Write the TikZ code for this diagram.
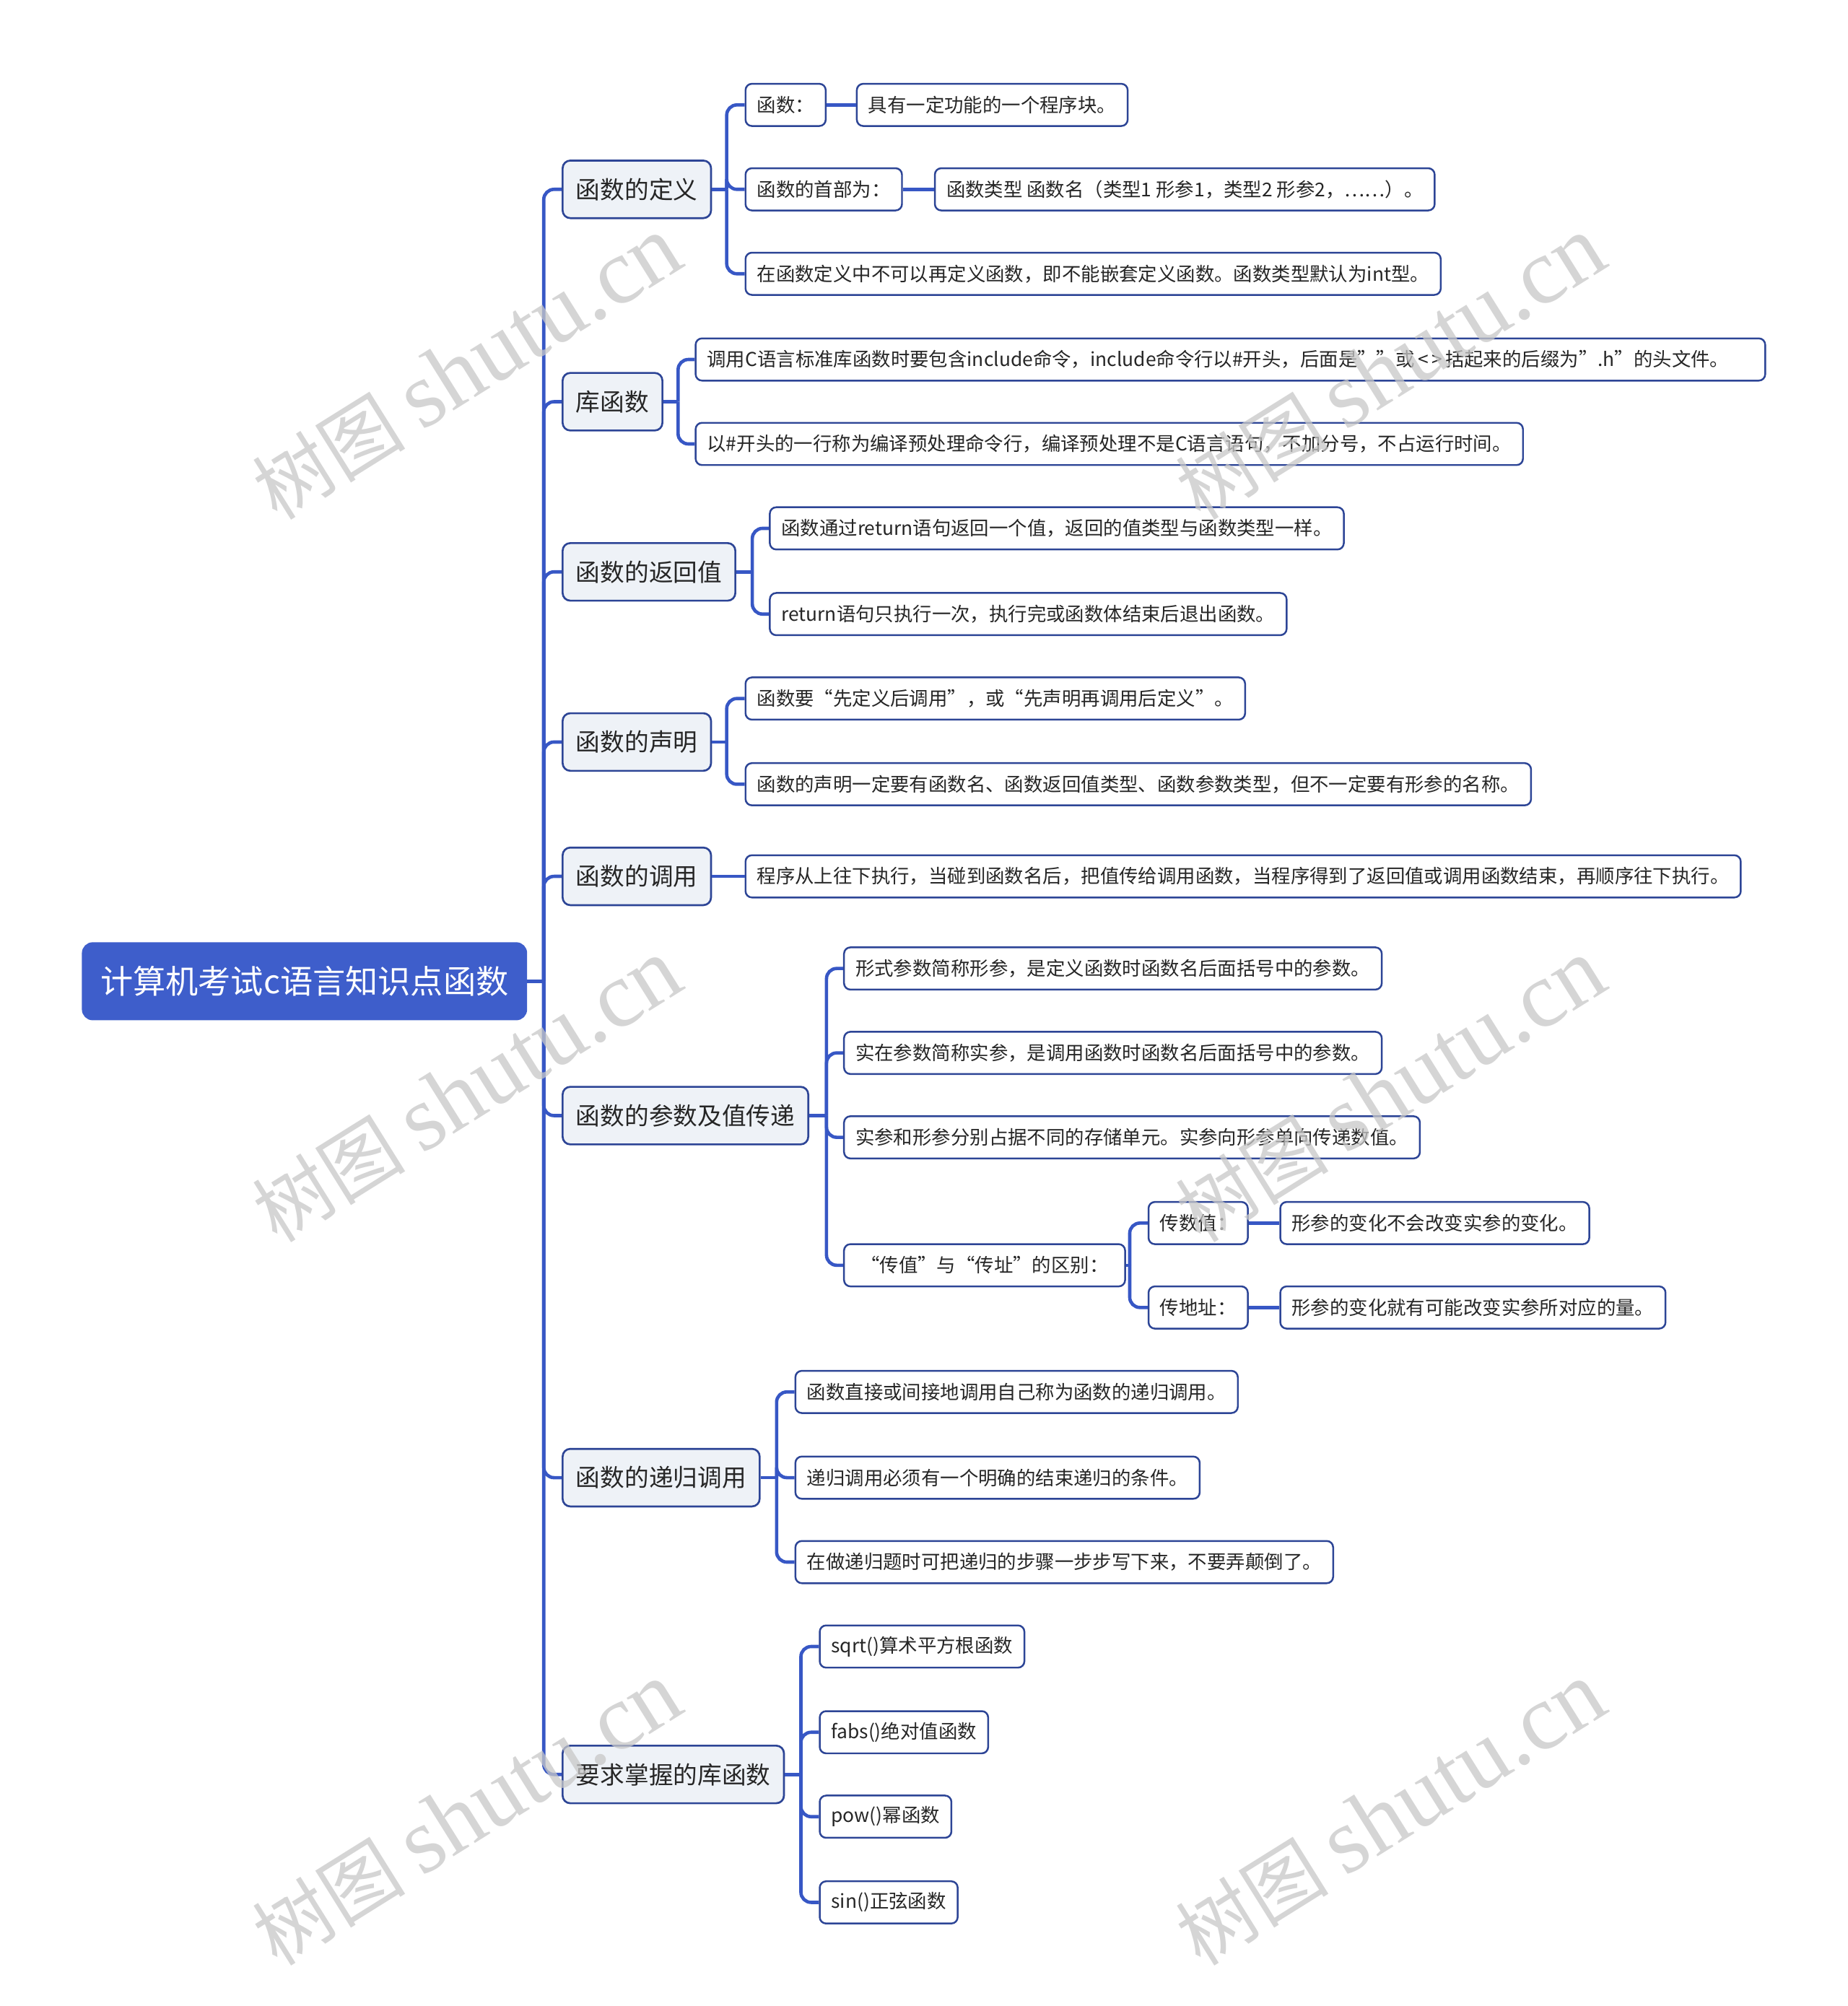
\documentclass[tikz,border=0pt]{standalone}
\usepackage{fontspec}
\setmainfont{Noto Sans CJK SC}
\newfontfamily\wmlatin{Liberation Serif}
\usetikzlibrary{calc}
\definecolor{rootblue}{HTML}{3E5ECB}
\definecolor{connblue}{HTML}{3757C5}
\definecolor{bordnavy}{HTML}{2D4596}
\definecolor{lonefill}{HTML}{EEF2F7}
\definecolor{wmgray}{HTML}{C8C8C8}
\tikzset{
  rootbox/.style={draw=rootblue, fill=rootblue, text=white, rounded corners=8pt, line width=1pt,
    anchor=west, minimum height=60pt, inner xsep=14pt, inner ysep=0pt,
    font=\fontsize{25.5}{30}\selectfont},
  lonebox/.style={draw=bordnavy, fill=lonefill, text=black!85, rounded corners=6pt, line width=1.5pt,
    anchor=west, minimum height=45pt, inner xsep=10.5pt, inner ysep=0pt,
    font=\fontsize{19}{23}\selectfont},
  leafbox/.style={draw=bordnavy, fill=white, text=black!85, rounded corners=5pt, line width=1.4pt,
    anchor=west, minimum height=33pt, inner xsep=9pt, inner ysep=0pt,
    font=\fontsize{14.9}{18}\selectfont},
  conn/.style={draw=connblue, line width=2.6pt, rounded corners=8pt},
  wm/.style={text=wmgray, text opacity=0.75, rotate=32, inner sep=0pt},
}
\begin{document}
\begin{tikzpicture}[x=1pt, y=-1pt]
\useasboundingbox[fill=white] (0,0) rectangle (1444,1568);

% root
\node[rootbox] (root) at (64,767) {计算机考试c语言知识点函数};

% level 1
\node[lonebox] (a) at (439,148) {函数的定义};
\node[lonebox] (b) at (439,314) {库函数};
\node[lonebox] (c) at (439,447) {函数的返回值};
\node[lonebox] (d) at (439,580) {函数的声明};
\node[lonebox] (e) at (439,685) {函数的调用};
\node[lonebox] (f) at (439,872) {函数的参数及值传递};
\node[lonebox] (g) at (439,1155) {函数的递归调用};
\node[lonebox] (h) at (439,1387) {要求掌握的库函数};

% a children
\node[leafbox] (a1) at (582,82) {函数：};
\node[leafbox] (a1x) at (669,82) {具有一定功能的一个程序块。};
\node[leafbox] (a2) at (582,148) {函数的首部为：};
\node[leafbox] (a2x) at (730,148) {函数类型 函数名（类型1 形参1，类型2 形参2，……）。};
\node[leafbox] (a3) at (582,214) {在函数定义中不可以再定义函数，即不能嵌套定义函数。函数类型默认为int型。};

% b children
\node[leafbox, text width=818pt, align=left] (b1) at (543,281) {调用C语言标准库函数时要包含include命令，include命令行以\#开头，后面是""或\,<\,>\,括起来的后缀为”.h”的头文件。};
\node[leafbox] (b2) at (543,347) {以\#开头的一行称为编译预处理命令行，编译预处理不是C语言语句，不加分号，不占运行时间。};

% c children
\node[leafbox] (c1) at (601,413) {函数通过return语句返回一个值，返回的值类型与函数类型一样。};
\node[leafbox] (c2) at (601,480) {return语句只执行一次，执行完或函数体结束后退出函数。};

% d children
\node[leafbox] (d1) at (582,546) {函数要“先定义后调用”，或“先声明再调用后定义”。};
\node[leafbox] (d2) at (582,613) {函数的声明一定要有函数名、函数返回值类型、函数参数类型，但不一定要有形参的名称。};

% e child
\node[leafbox] (e1) at (582,685) {程序从上往下执行，当碰到函数名后，把值传给调用函数，当程序得到了返回值或调用函数结束，再顺序往下执行。};

% f children
\node[leafbox] (f1) at (659,757) {形式参数简称形参，是定义函数时函数名后面括号中的参数。};
\node[leafbox] (f2) at (659,823) {实在参数简称实参，是调用函数时函数名后面括号中的参数。};
\node[leafbox] (f3) at (659,889) {实参和形参分别占据不同的存储单元。实参向形参单向传递数值。};
\node[leafbox, inner xsep=13pt] (f4) at (659,989) {“传值”与“传址”的区别：};
\node[leafbox] (f41) at (897,956) {传数值：};
\node[leafbox] (f41x) at (1000,956) {形参的变化不会改变实参的变化。};
\node[leafbox] (f42) at (897,1022) {传地址：};
\node[leafbox] (f42x) at (1000,1022) {形参的变化就有可能改变实参所对应的量。};

% g children
\node[leafbox] (g1) at (621,1088) {函数直接或间接地调用自己称为函数的递归调用。};
\node[leafbox] (g2) at (621,1155) {递归调用必须有一个明确的结束递归的条件。};
\node[leafbox] (g3) at (621,1221) {在做递归题时可把递归的步骤一步步写下来，不要弄颠倒了。};

% h children
\node[leafbox] (h1) at (640,1287) {sqrt()算术平方根函数};
\node[leafbox] (h2) at (640,1354) {fabs()绝对值函数};
\node[leafbox] (h3) at (640,1420) {pow()幂函数};
\node[leafbox] (h4) at (640,1487) {sin()正弦函数};

% bracket coordinates
\coordinate (sp) at (425,767);
\coordinate (ba) at (568,148);
\coordinate (bb) at (530,314);
\coordinate (bc) at (588,447);
\coordinate (bd) at (568,580);
\coordinate (bf) at (646,872);
\coordinate (bf4) at (883,989);
\coordinate (bg) at (607,1155);
\coordinate (bh) at (626,1387);

% connectors
\draw[conn] (root.east) -- (sp);
\foreach \n in {a,b,c,d,e,f,g,h} { \draw[conn] (sp) |- (\n.west); }

\draw[conn] (a.east) -- (ba);
\foreach \n in {a1,a2,a3} { \draw[conn] (ba) |- (\n.west); }
\draw[conn] (a1.east) -- (a1x.west);
\draw[conn] (a2.east) -- (a2x.west);

\draw[conn] (b.east) -- (bb);
\foreach \n in {b1,b2} { \draw[conn] (bb) |- (\n.west); }

\draw[conn] (c.east) -- (bc);
\foreach \n in {c1,c2} { \draw[conn] (bc) |- (\n.west); }

\draw[conn] (d.east) -- (bd);
\foreach \n in {d1,d2} { \draw[conn] (bd) |- (\n.west); }

\draw[conn] (e.east) -- (e1.west);

\draw[conn] (f.east) -- (bf);
\foreach \n in {f1,f2,f3,f4} { \draw[conn] (bf) |- (\n.west); }
\draw[conn] (f4.east) -- (bf4);
\foreach \n in {f41,f42} { \draw[conn] (bf4) |- (\n.west); }
\draw[conn] (f41.east) -- (f41x.west);
\draw[conn] (f42.east) -- (f42x.west);

\draw[conn] (g.east) -- (bg);
\foreach \n in {g1,g2,g3} { \draw[conn] (bg) |- (\n.west); }

\draw[conn] (h.east) -- (bh);
\foreach \n in {h1,h2,h3,h4} { \draw[conn] (bh) |- (\n.west); }

% watermarks
\foreach \wx/\wy [count=\i] in {365/288, 1087/288, 365/853, 1087/853, 365/1418, 1087/1418} {
  \node[wm] (wm\i) at (\wx,\wy) {\fontsize{60}{66}\selectfont 树图\hspace{13pt}{\wmlatin\fontsize{73}{76}\selectfont shutu.cn}};
}
\end{tikzpicture}
\end{document}
